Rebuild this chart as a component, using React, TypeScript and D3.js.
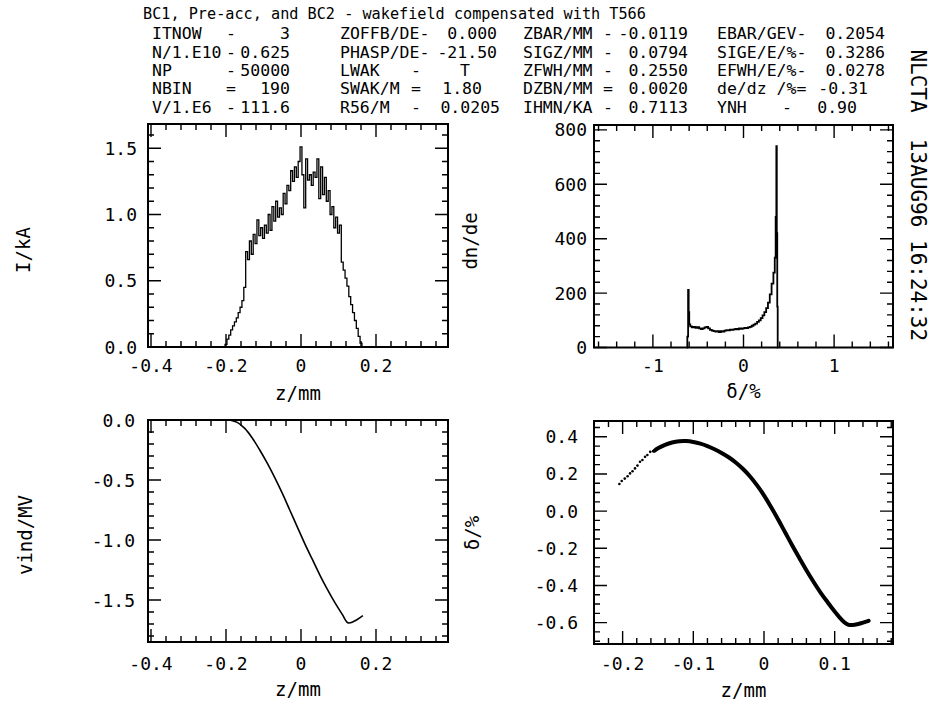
import React from 'react';
import * as d3 from 'd3';

const MONO = '"DejaVu Sans Mono", monospace';

// ---------------- header text ----------------
const TITLE = 'BC1, Pre-acc, and BC2 - wakefield compensated with T566';
const COL1_LABELS = ['ITNOW', 'N/1.E10', 'NP', 'NBIN', 'V/1.E6'];
const COL1_SEPS = ['-', '-', '-', '=', '-'];
const COL1_VALUES = ['3', '0.625', '50000', '190', '111.6'];
const COL2_LABELS = ['ZOFFB/DE-', 'PHASP/DE-', 'LWAK', 'SWAK/M', 'R56/M'];
const COL2_SEPS = ['', '', '-', '=', '-'];
const COL2_VALUES = ['0.000', '-21.50', 'T', '1.80', '0.0205'];
const COL3_LABELS = ['ZBAR/MM', 'SIGZ/MM', 'ZFWH/MM', 'DZBN/MM', 'IHMN/KA'];
const COL3_SEPS = ['-', '-', '-', '=', '-'];
const COL3_VALUES = ['-0.0119', '0.0794', '0.2550', '0.0020', '0.7113'];
const COL4_LABELS = ['EBAR/GEV-', 'SIGE/E/%-', 'EFWH/E/%-', 'de/dz /%=', 'YNH'];
const COL4_SEPS = ['', '', '', '', '-'];
const COL4_VALUES = ['0.2054', '0.3286', '0.0278', '-0.31', '0.90'];
const STAMP_SITE = 'NLCTA';
const STAMP_DATE = '13AUG96 16:24:32';

// ---------------- top-left: current profile ----------------
const CURRENT_Z = [
  -0.205, -0.2, -0.195, -0.19, -0.185, -0.18, -0.175, -0.17, -0.165, -0.16, -0.155, -0.15,
  -0.145, -0.14, -0.135, -0.13, -0.125, -0.12, -0.115, -0.11, -0.105, -0.1, -0.095, -0.09,
  -0.085, -0.08, -0.075, -0.07, -0.065, -0.06, -0.055, -0.05, -0.045, -0.04, -0.035, -0.03,
  -0.025, -0.02, -0.015, -0.01, -0.005, 0.0, 0.005, 0.01, 0.015, 0.02, 0.025, 0.03, 0.035,
  0.04, 0.045, 0.05, 0.055, 0.06, 0.065, 0.07, 0.075, 0.08, 0.085, 0.09, 0.095, 0.1, 0.105,
  0.11, 0.115, 0.12, 0.125, 0.13, 0.135, 0.14, 0.145, 0.15, 0.155, 0.16, 0.165,
];
const CURRENT_I = [
  0, 0.02, 0.06, 0.09, 0.13, 0.16, 0.19, 0.22, 0.26, 0.3, 0.35, 0.45,
  0.72, 0.66, 0.8, 0.7, 0.85, 0.78, 0.96, 0.84, 0.9, 0.82, 0.92, 0.86,
  1.0, 0.88, 1.06, 0.95, 1.1, 0.98, 1.05, 1.0, 1.16, 1.08, 1.22, 1.18,
  1.33, 1.25, 1.36, 1.28, 1.4, 1.51, 1.3, 1.05, 1.42, 1.26, 1.3, 1.22, 1.32,
  1.28, 1.42, 1.12, 1.36, 1.15, 1.28, 1.1, 1.18, 1.0, 1.06, 0.9, 0.98, 0.86, 0.92,
  0.64, 0.58, 0.52, 0.46, 0.38, 0.32, 0.26, 0.2, 0.14, 0.08, 0.03, 0,
];

// ---------------- top-right: energy spectrum ----------------
const DE_DELTA = [
  -0.625, -0.615, -0.608, -0.602, -0.596, -0.58, -0.56, -0.54, -0.52, -0.5, -0.48, -0.46,
  -0.44, -0.42, -0.4, -0.38, -0.36, -0.34, -0.32, -0.3, -0.28, -0.26, -0.24, -0.22, -0.2,
  -0.18, -0.16, -0.14, -0.12, -0.1, -0.08, -0.06, -0.04, -0.02, 0.0, 0.02, 0.04, 0.06, 0.08,
  0.1, 0.12, 0.14, 0.16, 0.18, 0.2, 0.22, 0.24, 0.26, 0.28, 0.3, 0.32, 0.34, 0.35, 0.36,
  0.365, 0.37, 0.375, 0.38,
];
const DE_COUNT = [
  0, 40, 212, 130, 85, 78, 74, 76, 72, 75, 70, 68,
  70, 74, 76, 70, 65, 62, 60, 58, 60, 57, 60, 58, 62,
  64, 63, 66, 65, 67, 68, 67, 70, 69, 70, 72, 71, 74, 76,
  80, 84, 88, 94, 100, 108, 118, 130, 145, 165, 195, 235, 275, 330, 480,
  740, 420, 150, 0,
];

// ---------------- bottom-left: induced voltage ----------------
const VIND_Z = [
  -0.19, -0.17, -0.15, -0.13, -0.11, -0.09, -0.07, -0.05, -0.03, -0.01, 0.01, 0.03,
  0.05, 0.07, 0.09, 0.11, 0.125, 0.14, 0.165,
];
const VIND_V = [
  0, -0.02, -0.07, -0.15, -0.25, -0.36, -0.48, -0.61, -0.75, -0.89, -1.03, -1.16,
  -1.29, -1.41, -1.52, -1.62, -1.69, -1.68, -1.63,
];

// ---------------- bottom-right: longitudinal phase space ----------------
const LPS_Z = [
  -0.155, -0.15, -0.14, -0.13, -0.12, -0.11, -0.1, -0.09, -0.08, -0.07, -0.06, -0.05,
  -0.04, -0.03, -0.02, -0.01, 0, 0.01, 0.02, 0.03, 0.04, 0.05, 0.06, 0.07, 0.08, 0.09,
  0.1, 0.11, 0.12, 0.13, 0.14, 0.148,
];
const LPS_D = [
  0.325, 0.338, 0.356, 0.369, 0.376, 0.377, 0.372, 0.363, 0.35, 0.333, 0.313, 0.29,
  0.262, 0.228, 0.188, 0.14, 0.085, 0.022, -0.045, -0.115, -0.185, -0.252, -0.318, -0.38,
  -0.438, -0.49, -0.54, -0.585, -0.612, -0.61, -0.6, -0.59,
];
const LPS_SPARSE_Z = [-0.2046, -0.2013, -0.197, -0.193, -0.1895, -0.186, -0.1825, -0.179, -0.1754, -0.172, -0.1683, -0.165, -0.161, -0.157];
const LPS_SPARSE_D = [0.146, 0.162, 0.175, 0.188, 0.203, 0.215, 0.23, 0.245, 0.266, 0.275, 0.292, 0.302, 0.319, 0.322];

// ---------------- axis tick lists ----------------
const TL_X_TICKS = [-0.4, -0.2, 0, 0.2];
const TL_X_LABELS = ['-0.4', '-0.2', '0', '0.2'];
const TL_Y_TICKS = [0, 0.5, 1.0, 1.5];
const TL_Y_LABELS = ['0.0', '0.5', '1.0', '1.5'];
const TR_X_TICKS = [-1, 0, 1];
const TR_X_LABELS = ['-1', '0', '1'];
const TR_Y_TICKS = [0, 200, 400, 600, 800];
const TR_Y_LABELS = ['0', '200', '400', '600', '800'];
const BL_X_TICKS = [-0.4, -0.2, 0, 0.2];
const BL_X_LABELS = ['-0.4', '-0.2', '0', '0.2'];
const BL_Y_TICKS = [0, -0.5, -1.0, -1.5];
const BL_Y_LABELS = ['0.0', '-0.5', '-1.0', '-1.5'];
const BR_X_TICKS = [-0.2, -0.1, 0, 0.1];
const BR_X_LABELS = ['-0.2', '-0.1', '0', '0.1'];
const BR_Y_TICKS = [0.4, 0.2, 0, -0.2, -0.4, -0.6];
const BR_Y_LABELS = ['0.4', '0.2', '0.0', '-0.2', '-0.4', '-0.6'];

type Scale = d3.ScaleLinear<number, number>;

function steps(domain: [number, number], step: number): number[] {
  const a = Math.ceil(Math.min(domain[0], domain[1]) / step - 1e-9);
  const b = Math.floor(Math.max(domain[0], domain[1]) / step + 1e-9);
  return d3.range(a, b + 1).map((i) => i * step);
}

type PanelProps = {
  frame: [number, number, number, number];
  xDomain: [number, number];
  yDomain: [number, number];
  xTicks: number[];
  xLabels: string[];
  xMinor: number;
  yTicks: number[];
  yLabels: string[];
  yMinor: number;
  xTitle: string;
  yTitle: string;
  xLabelDy: number;
  xTitleDy: number;
  yLabelGap: number;
  yTitleX: number;
  yTitleY: number;
  draw: (x: Scale, y: Scale) => React.ReactNode;
};

function Panel(p: PanelProps) {
  const [L, T, R, B] = p.frame;
  const x = d3.scaleLinear().domain(p.xDomain).range([L, R]);
  const y = d3.scaleLinear().domain(p.yDomain).range([B, T]);
  const MAJ = 13;
  const MIN = 6;
  const xm = steps(p.xDomain, p.xMinor);
  const ym = steps(p.yDomain, p.yMinor);
  let d = '';
  xm.forEach((v) => {
    const px = x(v);
    d += `M${px},${B}V${B - MIN}M${px},${T}V${T + MIN}`;
  });
  p.xTicks.forEach((v) => {
    const px = x(v);
    d += `M${px},${B}V${B - MAJ}M${px},${T}V${T + MAJ}`;
  });
  ym.forEach((v) => {
    const py = y(v);
    d += `M${L},${py}H${L + MIN}M${R},${py}H${R - MIN}`;
  });
  p.yTicks.forEach((v) => {
    const py = y(v);
    d += `M${L},${py}H${L + MAJ}M${R},${py}H${R - MAJ}`;
  });
  return (
    <g>
      {p.draw(x, y)}
      <path d={d} stroke="#000" strokeWidth={1.4} fill="none" />
      <rect x={L} y={T} width={R - L} height={B - T} fill="none" stroke="#000" strokeWidth={2} />
      {p.xTicks.map((v, i) => (
        <text key={'xl' + i} x={x(v)} y={B + p.xLabelDy} textAnchor="middle" dominantBaseline="central"
          fontFamily={MONO} fontSize={18} fill="#000">{p.xLabels[i]}</text>
      ))}
      {p.yTicks.map((v, i) => (
        <text key={'yl' + i} x={L - p.yLabelGap} y={y(v)} textAnchor="end" dominantBaseline="central"
          fontFamily={MONO} fontSize={18} fill="#000">{p.yLabels[i]}</text>
      ))}
      <text x={(L + R) / 2} y={B + p.xTitleDy} textAnchor="middle" dominantBaseline="central"
        fontFamily={MONO} fontSize={19} fill="#000">{p.xTitle}</text>
      <text transform={`translate(${p.yTitleX},${p.yTitleY}) rotate(-90)`} textAnchor="middle"
        dominantBaseline="central" fontFamily={MONO} fontSize={19} fill="#000">{p.yTitle}</text>
    </g>
  );
}

function Header() {
  const colX = [152, 340, 523, 717];
  const sepX = [231, 416, 608, 787];
  const valEnd = [
    [290, 290, 290, 290, 290],
    [497, 497, 470, 482, 500],
    [688, 688, 688, 688, 688],
    [885, 885, 885, 868, 857],
  ];
  const rowY = [39, 58, 76, 94, 113];
  const cols = [
    [COL1_LABELS, COL1_SEPS, COL1_VALUES],
    [COL2_LABELS, COL2_SEPS, COL2_VALUES],
    [COL3_LABELS, COL3_SEPS, COL3_VALUES],
    [COL4_LABELS, COL4_SEPS, COL4_VALUES],
  ];
  const st = { fontFamily: MONO, fontSize: 16.5, fill: '#000' } as const;
  return (
    <g>
      <text x={143} y={19} fontFamily={MONO} fontSize={15.2} fill="#000">{TITLE}</text>
      {cols.map(([labels, seps, vals], c) =>
        labels.map((lab, r) => (
          <g key={c + '-' + r}>
            <text x={colX[c]} y={rowY[r]} {...st}>{lab}</text>
            {seps[r] ? <text x={sepX[c]} y={rowY[r]} textAnchor="middle" {...st}>{seps[r]}</text> : null}
            <text x={valEnd[c][r]} y={rowY[r]} textAnchor="end" {...st}>{vals[r]}</text>
          </g>
        ))
      )}
    </g>
  );
}

export default function App() {
  const currentData = CURRENT_Z.map((z, i) => [z, CURRENT_I[i]] as [number, number]);
  const deData = DE_DELTA.map((v, i) => [v, DE_COUNT[i]] as [number, number]);
  const vindData = VIND_Z.map((z, i) => [z, VIND_V[i]] as [number, number]);
  const lpsData = LPS_Z.map((z, i) => [z, LPS_D[i]] as [number, number]);
  const sparse = LPS_SPARSE_Z.map((z, i) => [z, LPS_SPARSE_D[i]] as [number, number]);

  return (
    <svg width={930} height={702} viewBox="0 0 930 702"
      style={{ position: 'absolute', left: 0, top: 0, display: 'block', background: '#fff' }}>
      <rect width={930} height={702} fill="#fff" />
      <Header />

      <Panel frame={[148, 124, 448, 347]} xDomain={[-0.408, 0.392]} yDomain={[0, 1.683]}
        xTicks={TL_X_TICKS} xLabels={TL_X_LABELS} xMinor={0.04}
        yTicks={TL_Y_TICKS} yLabels={TL_Y_LABELS} yMinor={0.1}
        xTitle="z/mm" yTitle="I/kA" xLabelDy={18} xTitleDy={46} yLabelGap={11} yTitleX={23} yTitleY={250}
        draw={(x, y) => (
          <path d={d3.line<[number, number]>().x((d) => x(d[0])).y((d) => y(d[1])).curve(d3.curveStep)(currentData) || ''}
            fill="none" stroke="#000" strokeWidth={1.3} />
        )} />

      <Panel frame={[594, 125, 893, 347.5]} xDomain={[-1.65, 1.65]} yDomain={[0, 818]}
        xTicks={TR_X_TICKS} xLabels={TR_X_LABELS} xMinor={0.2}
        yTicks={TR_Y_TICKS} yLabels={TR_Y_LABELS} yMinor={40}
        xTitle="δ/%" yTitle="dn/de" xLabelDy={18} xTitleDy={43} yLabelGap={7} yTitleX={470} yTitleY={241}
        draw={(x, y) => (
          <path d={d3.line<[number, number]>().x((d) => x(d[0])).y((d) => y(d[1])).curve(d3.curveStep)(deData) || ''}
            fill="none" stroke="#000" strokeWidth={1.8} />
        )} />

      <Panel frame={[148, 420, 448, 642]} xDomain={[-0.408, 0.392]} yDomain={[-1.85, 0]}
        xTicks={BL_X_TICKS} xLabels={BL_X_LABELS} xMinor={0.04}
        yTicks={BL_Y_TICKS} yLabels={BL_Y_LABELS} yMinor={0.1}
        xTitle="z/mm" yTitle="vind/MV" xLabelDy={21} xTitleDy={47} yLabelGap={13} yTitleX={25} yTitleY={535}
        draw={(x, y) => (
          <path d={d3.line<[number, number]>().x((d) => x(d[0])).y((d) => y(d[1])).curve(d3.curveCatmullRom)(vindData) || ''}
            fill="none" stroke="#000" strokeWidth={1.6} />
        )} />

      <Panel frame={[594, 421, 893, 644]} xDomain={[-0.2405, 0.1825]} yDomain={[-0.715, 0.485]}
        xTicks={BR_X_TICKS} xLabels={BR_X_LABELS} xMinor={0.02}
        yTicks={BR_Y_TICKS} yLabels={BR_Y_LABELS} yMinor={0.05}
        xTitle="z/mm" yTitle="δ/%" xLabelDy={19} xTitleDy={46} yLabelGap={16} yTitleX={472} yTitleY={533}
        draw={(x, y) => (
          <g>
            <path d={d3.line<[number, number]>().x((d) => x(d[0])).y((d) => y(d[1])).curve(d3.curveCatmullRom)(lpsData) || ''}
              fill="none" stroke="#000" strokeWidth={4} strokeLinecap="round" />
            {sparse.map((d, i) => (
              <circle key={i} cx={x(d[0])} cy={y(d[1])} r={1.3} fill="#000" />
            ))}
          </g>
        )} />

      <text transform="translate(918,81) rotate(90)" textAnchor="middle" dominantBaseline="central"
        fontFamily={MONO} fontSize={21} fill="#000">{STAMP_SITE}</text>
      <text transform="translate(918,240) rotate(90)" textAnchor="middle" dominantBaseline="central"
        fontFamily={MONO} fontSize={21} fill="#000">{STAMP_DATE}</text>
    </svg>
  );
}
